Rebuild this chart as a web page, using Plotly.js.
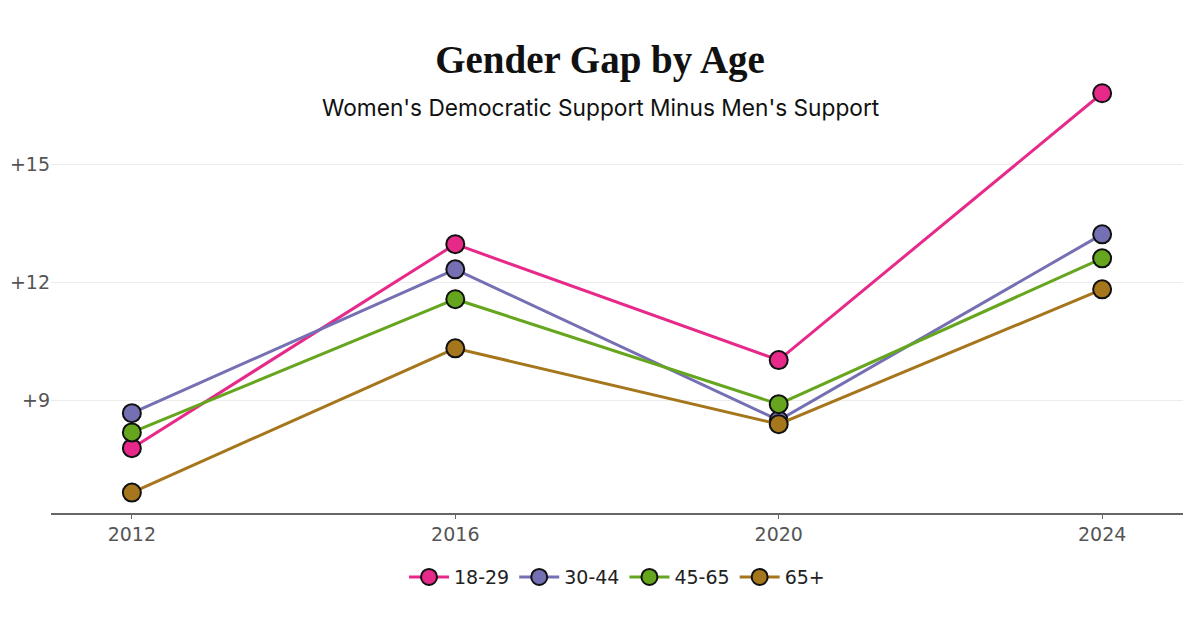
<!DOCTYPE html>
<html>
<head>
<meta charset="utf-8">
<script src="https://cdn.plot.ly/plotly-3.0.1.min.js"></script>
<style>
  html, body { margin: 0; padding: 0; background: #fff; }
  #chart { width: 1200px; height: 628px; }
</style>
</head>
<body>
<div id="chart"></div>
<script>
// election years and the gap (women's minus men's Dem support) per age group
const years = [2012, 2016, 2020, 2024];
const ageGroups = ['18-29', '30-44', '45-65', '65+'];
const gap1829 = [7.78, 12.97, 10.02, 16.81];
const gap3044 = [8.67, 12.33, 8.49, 13.22];
const gap4565 = [8.18, 11.57, 8.9, 12.61];
const gap65 = [6.65, 10.32, 8.39, 11.82];
const yTicks = [9, 12, 15];
const yTickLabels = ['+9', '+12', '+15'];

const colors = ['#e7298a', '#7570b3', '#66a61e', '#a6761d'];
const series = [gap1829, gap3044, gap4565, gap65];

const traces = series.map((vals, i) => ({
  x: years,
  y: vals,
  name: ageGroups[i],
  type: 'scatter',
  mode: 'lines+markers',
  line: {color: colors[i], width: 3},
  marker: {size: 18, color: colors[i], line: {color: '#111', width: 2}}
}));

const layout = {
  width: 1200,
  height: 628,
  margin: {l: 51, r: 17, t: 74, b: 115},
  paper_bgcolor: '#fff',
  plot_bgcolor: '#fff',
  showlegend: true,
  title: {
    text: '<b>Gender Gap by Age</b>',
    font: {family: 'Liberation Serif', size: 39, color: '#111'},
    x: 0.5, xanchor: 'center',
    y: 0.905, yref: 'container', yanchor: 'middle'
  },
  // subtitle centred on the page, not on the plot area
  annotations: [{
    text: "Women's Democratic Support Minus Men's Support",
    xref: 'paper', yref: 'paper',
    x: 0.485, y: 0.9226, xanchor: 'center', yanchor: 'middle',
    showarrow: false,
    font: {family: 'Inter', size: 22.7, color: '#111'}
  }],
  xaxis: {
    range: [2011, 2025],
    tickvals: years,
    ticktext: years.map(String),
    showgrid: false,
    zeroline: false,
    showline: true,
    linecolor: '#666',
    linewidth: 1.5,
    ticks: 'outside',
    ticklen: 4,
    tickcolor: '#666',
    tickfont: {family: 'DejaVu Sans', size: 19, color: '#555'}
  },
  yaxis: {
    range: [6.13, 17.3],
    tickvals: yTicks,
    ticktext: yTickLabels,
    showgrid: true,
    gridcolor: '#ececec',
    gridwidth: 1,
    zeroline: false,
    showline: false,
    ticks: '',
    tickfont: {family: 'DejaVu Sans', size: 19, color: '#555'}
  },
  legend: {
    orientation: 'h',
    x: 0.5, xanchor: 'center',
    y: -0.146, yanchor: 'middle',
    font: {family: 'DejaVu Sans', size: 19, color: '#222'},
    itemwidth: 40
  }
};

Plotly.newPlot('chart', traces, layout, {displayModeBar: false, staticPlot: true});
</script>
</body>
</html>
